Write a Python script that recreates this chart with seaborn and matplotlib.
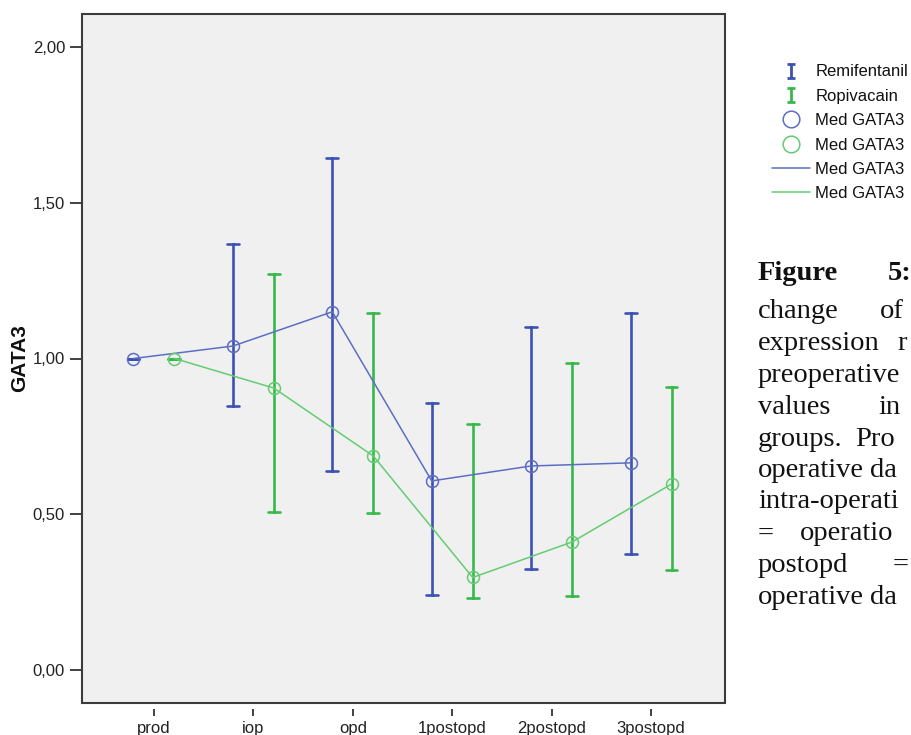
import numpy as np
import pandas as pd
import matplotlib
matplotlib.use("Agg")
import matplotlib.pyplot as plt
import seaborn as sns
from matplotlib.lines import Line2D
from matplotlib.path import Path
from matplotlib.patches import Rectangle

# ---- data ----
categories = ["prod", "iop", "opd", "1postopd", "2postopd", "3postopd"]
groups = ["Remifentanil", "Ropivacain"]
remi_median = [1.00, 1.04, 1.15, 0.607, 0.655, 0.665]
remi_low = [1.00, 0.848, 0.639, 0.241, 0.324, 0.372]
remi_high = [1.00, 1.368, 1.644, 0.857, 1.101, 1.146]
ropi_median = [1.00, 0.905, 0.687, 0.297, 0.411, 0.597]
ropi_low = [1.00, 0.508, 0.504, 0.231, 0.238, 0.321]
ropi_high = [1.00, 1.271, 1.146, 0.790, 0.985, 0.909]
y_ticks = [0.0, 0.5, 1.0, 1.5, 2.0]
legend_labels = ["Remifentanil", "Ropivacain", "Med GATA3", "Med GATA3", "Med GATA3", "Med GATA3"]

# long table: low / median / high per group & time point
rows = []
for g, lo, me, hi in [(groups[0], remi_low, remi_median, remi_high),
                      (groups[1], ropi_low, ropi_median, ropi_high)]:
    for c, a, b, d in zip(categories, lo, me, hi):
        for v in (a, b, d):
            rows.append({"time": c, "group": g, "GATA3": v})
df = pd.DataFrame(rows)

err_pal = {"Remifentanil": "#3d51b2", "Ropivacain": "#38b84b"}
line_pal = {"Remifentanil": "#5c6ec3", "Ropivacain": "#64cc72"}

sns.set_style("white")
plt.rcParams["font.family"] = ["Liberation Sans", "DejaVu Sans"]

W, H = 912, 735
fig = plt.figure(figsize=(W / 100, H / 100), dpi=100)
L, R, T, B = 82, 725, 14, 703
ax = fig.add_axes([L / W, 1 - B / H, (R - L) / W, (B - T) / H])
ax.set_facecolor("#f0f0f0")

dodge = 0.412
# error bars (range) with caps
sns.pointplot(data=df, x="time", y="GATA3", hue="group", order=categories,
              hue_order=groups, estimator="median", errorbar=("pi", 100),
              dodge=dodge, palette=err_pal, markers="", linestyles="none",
              capsize=0.12, err_kws={"linewidth": 1.9}, legend=False, ax=ax)
# median lines + open circles
sns.pointplot(data=df, x="time", y="GATA3", hue="group", order=categories,
              hue_order=groups, estimator="median", errorbar=None,
              dodge=dodge, palette=line_pal, markers="o", linestyles="-",
              linewidth=1.1, markersize=8.6, markeredgewidth=1.1,
              markerfacecolor="none", legend=False, ax=ax)

ax.set_xlim(-0.724, 5.744)
ax.set_ylim(-0.106, 2.106)
ax.set_yticks(y_ticks)
ax.set_yticklabels([f"{v:.2f}".replace(".", ",") for v in y_ticks])
ax.set_xlabel("")
ax.set_ylabel("GATA3", fontsize=15, fontweight="bold", color="#111111")
ax.yaxis.set_label_coords(-0.083, 0.5)

for s in ax.spines.values():
    s.set_visible(False)
ax.spines["left"].set_position(("outward", 1))
ax.spines["bottom"].set_position(("outward", 4))
ax.add_patch(Rectangle((0, 0), 1, 1, transform=ax.transAxes, fill=False,
                       edgecolor="#3c3c3c", linewidth=1.5, clip_on=False, zorder=10))
ax.tick_params(axis="y", length=8, width=1.3, color="#333333", pad=3.2,
               labelsize=12, labelcolor="#222222", left=True)
ax.tick_params(axis="x", length=5, width=1.3, color="#333333", pad=4,
               labelsize=12, labelcolor="#222222", bottom=True)

# legend
ibar = Path([(-0.6, 1), (0.6, 1), (0, 1), (0, -1), (-0.6, -1), (0.6, -1)],
            [Path.MOVETO, Path.LINETO, Path.MOVETO, Path.LINETO, Path.MOVETO, Path.LINETO])
handles = [
    Line2D([], [], ls="none", marker=ibar, markersize=9.5, mec=err_pal[groups[0]], mew=2.0),
    Line2D([], [], ls="none", marker=ibar, markersize=9.5, mec=err_pal[groups[1]], mew=2.0),
    Line2D([], [], ls="none", marker="o", markersize=12, mfc="none", mec=line_pal[groups[0]], mew=1.1),
    Line2D([], [], ls="none", marker="o", markersize=12, mfc="none", mec=line_pal[groups[1]], mew=1.1),
    Line2D([], [], color=line_pal[groups[0]], lw=1.1),
    Line2D([], [], color=line_pal[groups[1]], lw=1.1),
]
fig.legend(handles, legend_labels, loc="upper left",
           bbox_to_anchor=(772 / W, 1 - 64.5 / H), frameon=False, fontsize=12,
           handlelength=2.3, handletextpad=0.3, labelspacing=0.56,
           borderpad=0, borderaxespad=0, labelcolor="#111111")

# caption text (cropped in the reference)
cap_lines = [
    [("Figure", 758, True), ("5:", 888, True)],
    [("change", 758, False), ("of", 880, False)],
    [("expression", 758, False), ("r", 897, False)],
    [("preoperative", 758, False)],
    [("values", 758, False), ("in", 878, False)],
    [("groups.", 758, False), ("Pro", 855, False)],
    [("operative", 758, False), ("da", 870, False)],
    [("intra-operati", 758, False)],
    [("=", 758, False), ("operatio", 800, False)],
    [("postopd", 758, False), ("=", 893, False)],
    [("operative", 758, False), ("da", 870, False)],
]
baselines = [280, 318.5, 350, 381.5, 413.5, 445.5, 477, 508.5, 540.5, 572, 604]
for words, yb in zip(cap_lines, baselines):
    for w, x, bold in words:
        fig.text(x / W, 1 - yb / H, w, fontsize=20.5, family=["Liberation Serif", "DejaVu Serif"],
                 fontweight="bold" if bold else "normal", va="baseline", ha="left", color="#111111")

fig.savefig("out.png", dpi=100, facecolor="white")
